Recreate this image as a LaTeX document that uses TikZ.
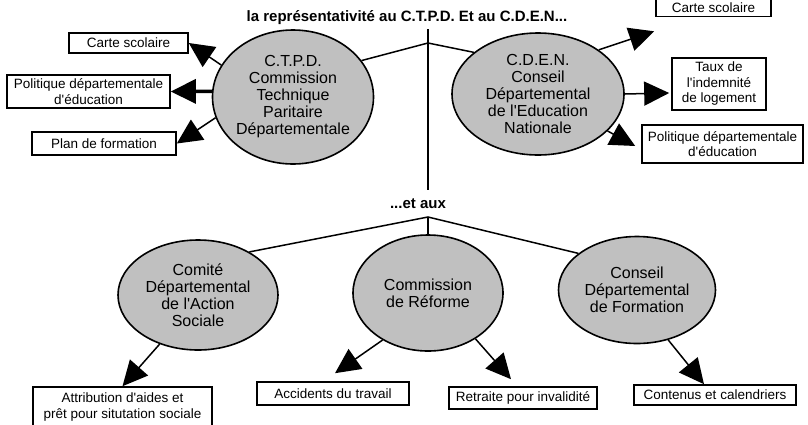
\documentclass[tikz,border=0pt]{standalone}
\usepackage{fontspec}
\setmainfont{Liberation Sans}[Ligatures=TeXOff]
\usetikzlibrary{shapes.geometric,arrows.meta,calc}
\definecolor{grisovale}{HTML}{C0C0C0}
\tikzset{
  organe/.style={ellipse, draw, line width=1.6pt, fill=grisovale, inner sep=0pt, align=center, font=\fontsize{16}{17}\selectfont},
  domaine/.style={rectangle, draw, line width=1.6pt, fill=white, inner sep=0pt, align=center, font=\fontsize{13.5}{15.5}\selectfont},
  titre/.style={font=\bfseries\fontsize{15}{18}\selectfont},
  lien/.style={line width=1.5pt},
  fleche/.style={line width=1.5pt, -{Triangle[length=25pt,width=24pt]}},
}
\begin{document}
\begin{tikzpicture}[x=1pt, y=-1pt]
\useasboundingbox (0,0) rectangle (808,424);

% titres
\node[titre] (titre) at (407,18) {la représentativité au C.T.P.D. Et au C.D.E.N...};
\node[titre] (etaux) at (418,204) {...et aux};

% organes
\node[organe, minimum width=158pt, minimum height=134pt] (ctpd) at (293,97) {C.T.P.D.\\Commission\\Technique\\Paritaire\\Départementale};
\node[organe, minimum width=172pt, minimum height=122pt] (cden) at (538,94) {C.D.E.N.\\Conseil\\Départemental\\de l'Education\\Nationale};
\node[organe, minimum width=160pt, minimum height=110pt] (comite) at (198,295) {Comité\\Départemental\\de l'Action\\Sociale};
\node[organe, minimum width=150pt, minimum height=116pt] (reforme) at (428,293) {Commission\\de Réforme};
\node[organe, minimum width=157pt, minimum height=107pt] (formation) at (637,290) {Conseil\\Départemental\\de Formation};

% domaines
\node[domaine, minimum width=119pt, minimum height=20pt] (carteG) at (128.5,43) {Carte scolaire};
\node[domaine, minimum width=163pt, minimum height=33pt] (politG) at (88.5,91.5) {Politique départementale\\d'éducation};
\node[domaine, minimum width=144pt, minimum height=23pt] (planG) at (104,143.5) {Plan de formation};
\node[domaine, minimum width=115pt, minimum height=18pt] (carteD) at (713.5,7.5) {Carte scolaire};
\node[domaine, minimum width=94pt, minimum height=52pt] (tauxD) at (719,84) {Taux de\\l'indemnité\\de logement};
\node[domaine, minimum width=161pt, minimum height=38pt] (politD) at (722.5,144) {Politique départementale\\d'éducation};
\node[domaine, minimum width=179pt, minimum height=40pt] (attrib) at (122.5,407) {Attribution d'aides et\\prêt pour situtation sociale};
\node[domaine, minimum width=152pt, minimum height=23pt] (accid) at (333,393.5) {Accidents du travail};
\node[domaine, minimum width=148pt, minimum height=22pt] (retraite) at (523,398) {Retraite pour invalidité};
\node[domaine, minimum width=162pt, minimum height=20pt] (contenus) at (715,395) {Contenus et calendriers};

% arborescence
\coordinate (haut) at (428,29);
\coordinate (noeudA) at (428,43);
\coordinate (milieu) at (428,190);
\coordinate (noeudB) at (428,217);
\draw[lien] (haut) -- (milieu);
\draw[lien] (ctpd.28) -- (noeudA) -- (cden.147);
\draw[lien] (comite.40) -- (noeudB) -- (formation.148);
\draw[lien] (noeudB) -- (reforme.north);

% attributions
\draw[fleche] (ctpd.156) -- (carteG.east);
\draw[fleche, line width=3.5pt] (ctpd.176) -- (politG.east);
\draw[fleche] (ctpd.195) -- (planG.east);
\draw[fleche] (cden.36) -- ($(carteD.south west)+(-1,14)$);
\draw[fleche] (cden.east) -- ($(tauxD.west)+(-2,9)$);
\draw[fleche] (cden.-28) -- ($(politD.west)+(-6,2)$);
\draw[fleche] (comite.232) -- (attrib.north);
\draw[fleche] (reforme.226) -- ($(accid.north)+(2,-8)$);
\draw[fleche] (reforme.316) -- ($(retraite.north)+(-12,-7)$);
\draw[fleche] (formation.302) -- ($(contenus.north)+(-11,0)$);

\end{tikzpicture}
\end{document}
